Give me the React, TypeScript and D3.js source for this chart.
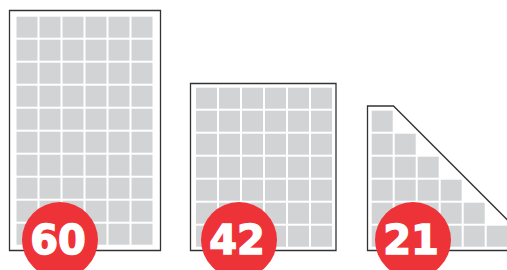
import React from "react";
import * as d3 from "d3";

// three paper formats, each holding a grid of little squares
const labels = ["60", "42", "21"];
const counts = [60, 42, 21];
const columns = [6, 6, 6];
const rows = [10, 7, 6];
const kinds = ["rect", "rect", "stair"];

const W = 507;
const H = 270;
const pitch = 23; // cell + gap
const cell = 21;

// frame boxes and grid origins for each shape
const frames = [
  { x0: 9.5, y0: 10.5, x1: 160.5, y1: 250.5, gx: 16.5, gy: 16.7, cx: 60 },
  { x0: 190.5, y0: 83.5, x1: 336, y1: 250.5, gx: 196, gy: 87.7, cx: 239 },
  { x0: 367.5, y0: 106, x1: 393.5, y1: 250.5, gx: 371.7, gy: 110.7, cx: 413 },
];

function cellsFor(i: number) {
  const cols = columns[i];
  const nr = rows[i];
  const f = frames[i];
  const x = d3.scaleLinear().domain([0, cols]).range([f.gx, f.gx + cols * pitch]);
  const y = d3.scaleLinear().domain([0, nr]).range([f.gy, f.gy + nr * pitch]);
  const out: { x: number; y: number }[] = [];
  d3.range(nr).forEach((r) => {
    const n = kinds[i] === "stair" ? r + 1 : cols;
    d3.range(n).forEach((c) => out.push({ x: x(c), y: y(r) }));
  });
  return out.slice(0, counts[i]);
}

function framePath(i: number) {
  const f = frames[i];
  const p = d3.path();
  if (kinds[i] === "stair") {
    const drop = f.y1 - f.y0;
    p.moveTo(f.x0, f.y0);
    p.lineTo(f.x1, f.y0);
    p.lineTo(f.x1 + drop, f.y1);
    p.lineTo(f.x0, f.y1);
    p.closePath();
  } else {
    p.rect(f.x0, f.y0, f.x1 - f.x0, f.y1 - f.y0);
  }
  return p.toString();
}

export default function App() {
  return (
    <svg
      width={W}
      height={H}
      style={{ position: "absolute", left: 0, top: 0, background: "#fff" }}
    >
      {labels.map((lab, i) => (
        <g key={lab}>
          <path d={framePath(i)} fill="#fff" stroke="#333" strokeWidth={1.3} />
          {cellsFor(i).map((d, j) => (
            <rect key={j} x={d.x} y={d.y} width={cell} height={cell} fill="#d1d3d4" />
          ))}
        </g>
      ))}
      {labels.map((lab, i) => (
        <g key={"c" + lab}>
          <circle cx={frames[i].cx} cy={240} r={38} fill="#ee3338" />
          <text
            x={frames[i].cx - 2}
            y={253.5}
            textAnchor="middle"
            fill="#fff"
            stroke="#fff"
            strokeWidth={1.4}
            fontFamily="DejaVu Sans"
            fontWeight="bold"
            fontSize={40}
          >
            {lab}
          </text>
        </g>
      ))}
    </svg>
  );
}
